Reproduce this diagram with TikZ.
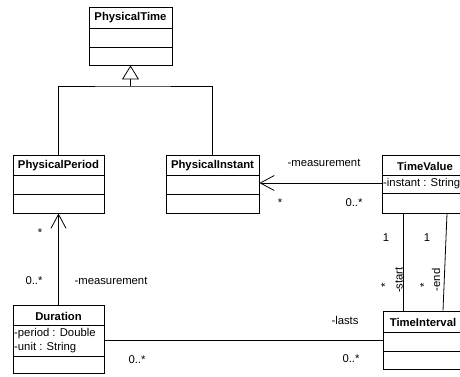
\documentclass[tikz,border=0pt]{standalone}
\usepackage{fontspec}
\setmainfont{Liberation Sans}
\usetikzlibrary{arrows.meta}
\tikzset{
  umlbox/.style={draw=black, line width=0.9pt, rectangle, inner sep=0pt, fill=white},
  cls/.style={font=\fontsize{11.3}{13}\selectfont\bfseries, inner sep=0pt},
  attr/.style={font=\fontsize{11.3}{13}\selectfont, inner sep=0pt, anchor=west},
  lbl/.style={font=\fontsize{11.3}{13}\selectfont, inner sep=0pt},
  conn/.style={draw=black, line width=0.8pt},
  openhead/.style={-{Straight Barb[length=14pt,width=15pt,line width=0.8pt]}},
  genhead/.style={-{Triangle[open,length=14pt,width=17pt,line width=0.8pt]}},
}
\begin{document}
\begin{tikzpicture}[x=1pt,y=-1pt]
\useasboundingbox (0,0) rectangle (460,376);
\clip (0,0) rectangle (460,376);
\fill[white] (0,0) rectangle (460,376);

% PhysicalTime
\node[umlbox, minimum width=83pt, minimum height=58pt] (pt) at (130.5,36) {};
\node[cls] (ptt) at (130.5,18) {PhysicalTime};
\draw[line width=0.9pt] ([yshift=-22pt]pt.north west) -- ([yshift=-22pt]pt.north east);
\draw[line width=0.9pt] ([yshift=-41pt]pt.north west) -- ([yshift=-41pt]pt.north east);

% PhysicalPeriod
\node[umlbox, minimum width=91pt, minimum height=58pt] (pp) at (58.5,184) {};
\node[cls] (ppt) at (58.5,166) {PhysicalPeriod};
\draw[line width=0.9pt] ([yshift=-21pt]pp.north west) -- ([yshift=-21pt]pp.north east);
\draw[line width=0.9pt] ([yshift=-40pt]pp.north west) -- ([yshift=-40pt]pp.north east);

% PhysicalInstant
\node[umlbox, minimum width=93pt, minimum height=58pt] (pi) at (212.5,184) {};
\node[cls] (pit) at (212.5,166) {PhysicalInstant};
\draw[line width=0.9pt] ([yshift=-21pt]pi.north west) -- ([yshift=-21pt]pi.north east);
\draw[line width=0.9pt] ([yshift=-40pt]pi.north west) -- ([yshift=-40pt]pi.north east);

% TimeValue
\node[umlbox, minimum width=86pt, minimum height=58pt] (tv) at (425,184) {};
\node[cls] (tvt) at (425,166) {TimeValue};
\draw[line width=0.9pt] ([yshift=-21pt]tv.north west) -- ([yshift=-21pt]tv.north east);
\draw[line width=0.9pt] ([yshift=-39pt]tv.north west) -- ([yshift=-39pt]tv.north east);
\node[attr] (tva) at (383,184) {-instant : String};

% Duration
\node[umlbox, minimum width=91pt, minimum height=68pt] (du) at (58.5,339) {};
\node[cls] (dut) at (58.5,316) {Duration};
\draw[line width=0.9pt] ([yshift=-21pt]du.north west) -- ([yshift=-21pt]du.north east);
\draw[line width=0.9pt] ([yshift=-52pt]du.north west) -- ([yshift=-52pt]du.north east);
\node[attr] (dua) at (14,334) {-period : Double};
\node[attr] (dub) at (14,348) {-unit : String};

% TimeInterval
\node[umlbox, minimum width=82pt, minimum height=58pt] (ti) at (424,340) {};
\node[cls] (tit) at (423,322) {TimeInterval};
\draw[line width=0.9pt] ([yshift=-22pt]ti.north west) -- ([yshift=-22pt]ti.north east);
\draw[line width=0.9pt] ([yshift=-41pt]ti.north west) -- ([yshift=-41pt]ti.north east);

% generalization
\coordinate (gj) at (130.5,86);
\draw[conn] (pp.north) |- (gj) -| (pi.north);
\draw[conn, genhead] (gj) -- (pt.south);

% TimeValue -> PhysicalInstant
\draw[conn, openhead] (tv.west |- 0,183) -- (pi.east |- 0,183);
\node[lbl] (l1) at (324,163) {-measurement};
\node[lbl] (l2) at (280,203) {*};
\node[lbl] (l3) at (354,203) {0..*};

% Duration -> PhysicalPeriod
\draw[conn, openhead] (du.north) -- (pp.south);
\node[lbl] (l4) at (40,233) {*};
\node[lbl] (l5) at (34,281) {0..*};
\node[lbl] (l6) at (111,281) {-measurement};

% TimeValue -- TimeInterval
\draw[conn] (tv.south -| 403,0) -- (ti.north -| 403,0);
\draw[conn] (tv.south -| 447,0) -- (ti.north -| 443,0);
\node[lbl] (l7) at (386,238) {1};
\node[lbl] (l8) at (427,238) {1};
\node[lbl, rotate=90] (l9) at (385,285) {*};
\node[lbl, rotate=90] (l10) at (399,280) {-start};
\node[lbl, rotate=90] (l11) at (424,285) {*};
\node[lbl, rotate=90] (l12) at (436,280) {-end};

% Duration -- TimeInterval
\draw[conn] (du.east |- 0,340) -- (ti.west |- 0,340);
\node[lbl] (l13) at (345,320) {-lasts};
\node[lbl] (l14) at (351,359) {0..*};
\node[lbl] (l15) at (137,360) {0..*};
\end{tikzpicture}
\end{document}
